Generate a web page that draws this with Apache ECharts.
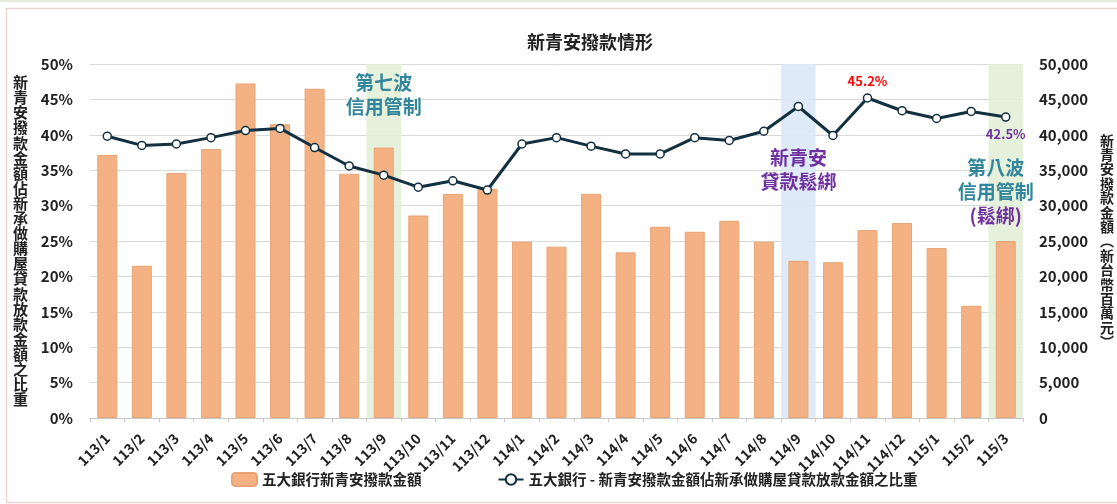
<!DOCTYPE html>
<html>
<head>
<meta charset="utf-8">
<script src="https://cdn.jsdelivr.net/npm/echarts@6/dist/echarts.min.js"></script>
<style>
  html, body { margin: 0; padding: 0; background: #fff; }
  #chart { width: 1117px; height: 504px; }
</style>
</head>
<body>
<div id="chart"></div>
<script>
// 月份（民國年/月）
const months = [
  '113/1', '113/2', '113/3', '113/4', '113/5', '113/6', '113/7', '113/8', '113/9',
  '113/10', '113/11', '113/12', '114/1', '114/2', '114/3', '114/4', '114/5', '114/6',
  '114/7', '114/8', '114/9', '114/10', '114/11', '114/12', '115/1', '115/2', '115/3',
];

// 五大銀行新青安撥款金額（新台幣百萬元）
const amounts = [
  37150, 21500, 34600, 38000, 47250, 41500, 46500, 34500, 38200,
  28600, 31650, 32350, 24900, 24200, 31650, 23400, 27000, 26300,
  27850, 24900, 22200, 22000, 26550, 27550, 24000, 15850, 25000,
];

// 撥款金額佔新承做購屋貸款放款金額之比重（%）
const shares = [
  39.8, 38.5, 38.7, 39.6, 40.6, 40.9, 38.2, 35.6, 34.3,
  32.6, 33.5, 32.2, 38.7, 39.6, 38.4, 37.3, 37.3, 39.6,
  39.2, 40.5, 44.0, 39.9, 45.2, 43.4, 42.3, 43.3, 42.5,
];

// 標示
const redLabelMonth = '114/11';
const purpleLabelMonth = '115/3';
const bandWave7 = '113/9';
const bandLoosen = '114/9';
const bandWave8 = '115/3';

const FONT = "'Noto Sans CJK TC', 'Noto Sans', sans-serif";
const C = {
  bar: '#f4b183',
  barEdge: '#e9a474',
  line: '#12303f',
  grid: '#d9d9d9',
  text: '#222',
  teal: '#31859c',
  purple: '#7030a0',
  red: '#ff0000',
  green: 'rgba(226, 238, 214, 0.85)',
  blue: 'rgba(218, 232, 246, 0.9)',
};

const vertical = (s) => s.split('').join('\n');

const shareData = shares.map((v, i) => {
  if (months[i] === redLabelMonth) {
    return { value: v, label: { show: true, position: 'top', distance: 6, color: C.red, formatter: '{c}%' } };
  }
  if (months[i] === purpleLabelMonth) {
    return { value: v, label: { show: true, position: 'bottom', distance: 6, color: C.purple, formatter: '{c}%' } };
  }
  return v;
});

const chart = echarts.init(document.getElementById('chart'), null, { renderer: 'canvas' });

chart.setOption({
  backgroundColor: '#fff',
  animation: false,
  textStyle: { fontFamily: FONT },
  title: {
    text: '新青安撥款情形',
    left: 522,
    top: 28,
    textStyle: { fontSize: 18, fontWeight: 'bold', color: C.text, fontFamily: FONT },
  },
  graphic: [
    { type: 'rect', left: 4, top: 6, shape: { width: 1120, height: 494 }, style: { fill: 'none', stroke: '#efd3d3', lineWidth: 1.5 } },
    { type: 'rect', left: 0, top: 0, shape: { width: 1117, height: 2 }, style: { fill: '#e4ece0' } },
  ],
  grid: { left: 90, right: 90, top: 64, bottom: 86 },
  legend: {
    left: 226,
    bottom: 12,
    itemWidth: 25,
    itemHeight: 13,
    itemGap: 76,
    textStyle: { fontSize: 14.5, fontWeight: 'bold', color: C.text, fontFamily: FONT },
    data: ['五大銀行新青安撥款金額', '五大銀行 - 新青安撥款金額佔新承做購屋貸款放款金額之比重'],
  },
  xAxis: {
    type: 'category',
    data: months,
    axisLine: { lineStyle: { color: '#c8c8c8' } },
    axisTick: { show: true, length: 4, lineStyle: { color: '#c8c8c8' } },
    axisLabel: { interval: 0, rotate: 45, margin: 18, fontSize: 14, fontWeight: 'bold', color: C.text },
  },
  yAxis: [
    {
      type: 'value',
      min: 0, max: 50, interval: 5,
      name: vertical('新青安撥款金額佔新承做購屋貸款放款金額之比重'),
      nameLocation: 'middle',
      nameRotate: 0,
      nameGap: 62,
      nameTextStyle: { fontSize: 15, lineHeight: 15.1, fontWeight: 'bold', color: C.text },
      axisLabel: { formatter: '{value}%', margin: 17, fontSize: 15, fontWeight: 'bold', color: C.text },
      splitLine: { lineStyle: { color: C.grid } },
      axisLine: { show: false },
    },
    {
      type: 'value',
      min: 0, max: 50000, interval: 5000,
      name: vertical('新青安撥款金額︵新台幣百萬元︶'),
      nameLocation: 'middle',
      nameRotate: 0,
      nameGap: 77,
      nameTextStyle: { fontSize: 14, lineHeight: 14.4, fontWeight: 'bold', color: C.text },
      axisLabel: {
        margin: 16, fontSize: 15, fontWeight: 'bold', color: C.text,
        formatter: (v) => v.toLocaleString('en-US'),
      },
      splitLine: { show: false },
      axisLine: { show: false },
    },
  ],
  series: [
    {
      name: '五大銀行新青安撥款金額',
      type: 'bar',
      yAxisIndex: 1,
      data: amounts,
      barWidth: 20,
      itemStyle: { color: C.bar, borderColor: C.barEdge, borderWidth: 1 },
      markArea: {
        silent: true,
        label: { show: false },
        data: [
          [{ xAxis: bandWave7, itemStyle: { color: C.green } }, { xAxis: bandWave7 }],
          [{ xAxis: bandLoosen, itemStyle: { color: C.blue } }, { xAxis: bandLoosen }],
          [{ xAxis: bandWave8, itemStyle: { color: C.green } }, { xAxis: bandWave8 }],
        ],
      },
    },
    {
      name: '五大銀行 - 新青安撥款金額佔新承做購屋貸款放款金額之比重',
      type: 'line',
      yAxisIndex: 0,
      data: shareData,
      symbol: 'circle',
      symbolSize: 8,
      z: 5,
      lineStyle: { color: C.line, width: 3 },
      itemStyle: { color: '#fff', borderColor: C.line, borderWidth: 1.5 },
      label: { fontSize: 13, fontWeight: 'bold' },
      markPoint: {
        symbol: 'circle',
        symbolSize: 0,
        silent: true,
        label: { show: true, position: 'inside', fontWeight: 'bold', fontSize: 19, lineHeight: 24 },
        data: [
          { coord: [bandWave7, 45.6], label: { formatter: '第七波\n信用管制', color: C.teal } },
          { coord: [bandLoosen, 35.1], label: { formatter: '新青安\n貸款鬆綁', color: C.purple } },
          {
            coord: [bandWave8, 31.9],
            label: {
              offset: [-10, 0],
              formatter: '{t|第八波}\n{t|信用管制}\n{p|(鬆綁)}',
              rich: {
                t: { color: C.teal, fontSize: 19, fontWeight: 'bold', lineHeight: 24 },
                p: { color: C.purple, fontSize: 19, fontWeight: 'bold', lineHeight: 24 },
              },
            },
          },
        ],
      },
    },
  ],
});
</script>
</body>
</html>
